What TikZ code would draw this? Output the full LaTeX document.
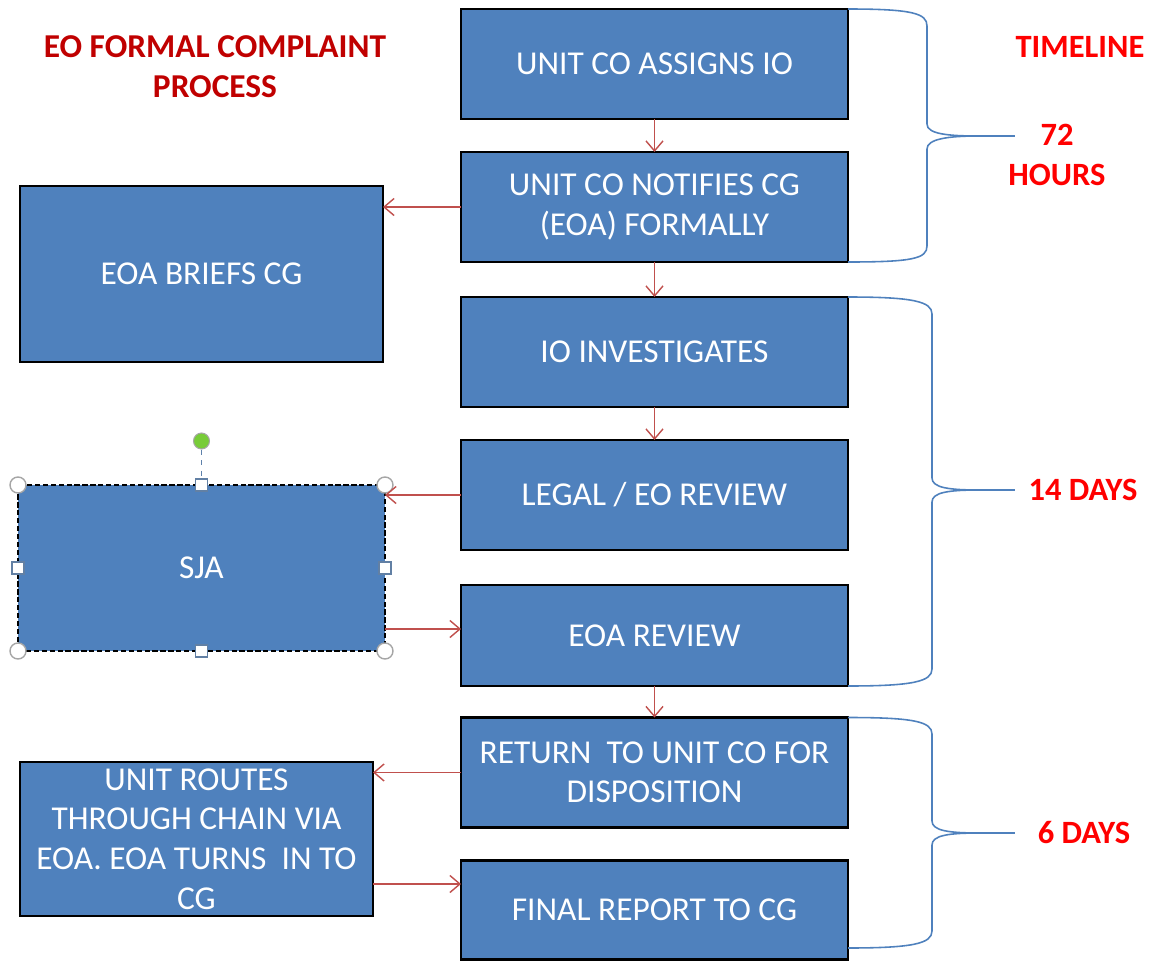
\documentclass[tikz,border=0pt]{standalone}
\usepackage{fontspec}
\setmainfont{Carlito}
\usetikzlibrary{positioning, arrows.meta, calc}
\definecolor{boxblue}{HTML}{4F81BD}
\definecolor{linkred}{HTML}{C0504D}
\definecolor{titlered}{HTML}{C00000}
\definecolor{handlegreen}{HTML}{78CC38}
\tikzstyle{stepbox} = [rectangle, minimum width=7.74cm, minimum height=2.2cm, outer sep=0pt, text centered, align=center, draw=black, line width=1.6pt, fill=boxblue, text=white, font=\fontsize{19}{22.5}\selectfont]
\tikzstyle{arrow} = [-{Straight Barb[length=2mm,width=3.4mm]}, draw=linkred, line width=0.8pt]
\tikzstyle{brace} = [draw=boxblue, line width=0.9pt]
\tikzstyle{timetext} = [text=red, align=center, font=\bfseries\fontsize{18.5}{22.5}\selectfont]
\tikzstyle{cornerhandle} = [circle, minimum size=0.32cm, inner sep=0pt, draw=gray!70, fill=white, line width=0.8pt]
\tikzstyle{sidehandle} = [rectangle, minimum size=0.24cm, inner sep=0pt, draw=boxblue!60!gray, fill=white, line width=0.8pt]

\begin{document}
\begin{tikzpicture}
\useasboundingbox (0,0) rectangle (23.02,-19.22);
%title and timeline
\node (title) [text=titlered, align=center, font=\bfseries\fontsize{19}{22.8}\selectfont] at (4.3,-1.34) {EO FORMAL COMPLAINT\\PROCESS};
\node (timeline) [timetext] at (21.6,-0.94) {TIMELINE};

%main column
\node (assign) [stepbox] at (13.09,-1.28) {UNIT CO ASSIGNS IO};
\node (notify) [stepbox, below=0.66cm of assign] {UNIT CO NOTIFIES CG\\(EOA) FORMALLY};
\node (invest) [stepbox, below=0.7cm of notify] {IO INVESTIGATES};
\node (legal) [stepbox, below=0.66cm of invest] {LEGAL / EO REVIEW};
\node (eoarev) [stepbox, minimum height=2.02cm, below=0.7cm of legal] {EOA REVIEW};
\node (return) [stepbox, below=0.63cm of eoarev] {RETURN~~TO UNIT CO FOR\\DISPOSITION};
\node (final) [stepbox, minimum height=1.98cm, below=0.66cm of return] {FINAL REPORT TO CG};

%side boxes
\node (briefs) [stepbox, minimum width=7.26cm, minimum height=3.52cm, left=1.56cm of notify, yshift=-1.34cm] {EOA BRIEFS CG};
\node (sja) [stepbox, minimum width=7.34cm, minimum height=3.32cm, dash pattern=on 3pt off 1.5pt, left=1.52cm of legal, yshift=-1.46cm] {SJA};
\node (routes) [stepbox, minimum width=7.06cm, minimum height=3.08cm, left=1.76cm of return, yshift=-1.33cm] {UNIT ROUTES\\THROUGH CHAIN VIA\\EOA. EOA TURNS~~IN TO\\CG};

%selection handles of sja
\foreach \a/\n in {north west/hnw, north east/hne, south west/hsw, south east/hse}
  \node (\n) [cornerhandle] at (sja.\a) {};
\foreach \a/\n in {north/hn, south/hs, west/hw, east/he}
  \node (\n) [sidehandle] at (sja.\a) {};
\node (rot) [circle, minimum size=0.32cm, inner sep=0pt, draw=gray!70, fill=handlegreen, line width=0.6pt] at ($(sja.north)+(0,0.88)$) {};
\draw [dashed, draw=boxblue!70!gray, line width=0.8pt] (rot) -- (hn);

%connectors
\coordinate (sjaout) at ([yshift=0.13cm]eoarev.west);
\coordinate (finalin) at ([yshift=0.52cm]final.west);
\draw [arrow] (assign) -- (notify);
\draw [arrow] (notify) -- (invest);
\draw [arrow] (invest) -- (legal);
\draw [arrow] (eoarev) -- (return);
\draw [arrow] (notify.west) -- (notify.west -| briefs.east);
\draw [arrow] (legal.west) -- (legal.west -| sja.east);
\draw [arrow] (sjaout -| sja.east) -- (sjaout);
\draw [arrow] (return.west) -- (return.west -| routes.east);
\draw [arrow] (finalin -| routes.east) -- (finalin);

%braces
\coordinate (hours) at (20.3,-2.72);
\coordinate (days) at (20.3,-9.8);
\coordinate (sixdays) at (20.3,-16.66);
\draw [brace] (assign.north east) .. controls +(1.3,0) and +(0,0.25) .. (18.54,-0.52) -- (18.54,-2.48) .. controls +(0,-0.2) and +(-0.6,0) .. (19.56,-2.72) .. controls +(-0.6,0) and +(0,0.2) .. (18.54,-2.98) -- (18.54,-4.92) .. controls +(0,-0.25) and +(1.3,0) .. (notify.south east);
\draw [brace] (19.56,-2.72) -- (hours);
\draw [brace] (invest.north east) .. controls +(1.3,0) and +(0,0.25) .. (18.64,-6.28) -- (18.64,-9.56) .. controls +(0,-0.2) and +(-0.6,0) .. (19.6,-9.8) .. controls +(-0.6,0) and +(0,0.2) .. (18.64,-10.04) -- (18.64,-13.38) .. controls +(0,-0.25) and +(1.3,0) .. (eoarev.south east);
\draw [brace] (19.6,-9.8) -- (days);
\draw [brace] (return.north east) .. controls +(1.3,0) and +(0,0.25) .. (18.64,-14.68) -- (18.64,-16.42) .. controls +(0,-0.2) and +(-0.6,0) .. (19.6,-16.66) .. controls +(-0.6,0) and +(0,0.2) .. (18.64,-16.9) -- (18.64,-18.62) .. controls +(0,-0.25) and +(1.3,0) .. (16.96,-18.96);
\draw [brace] (19.6,-16.66) -- (sixdays);

%timeline labels
\node (hourslabel) [timetext] at (21.14,-3.1) {72\\HOURS};
\node (dayslabel) [timetext] at (21.66,-9.8) {14 DAYS};
\node (sixlabel) [timetext] at (21.68,-16.66) {6 DAYS};
\end{tikzpicture}
\end{document}
